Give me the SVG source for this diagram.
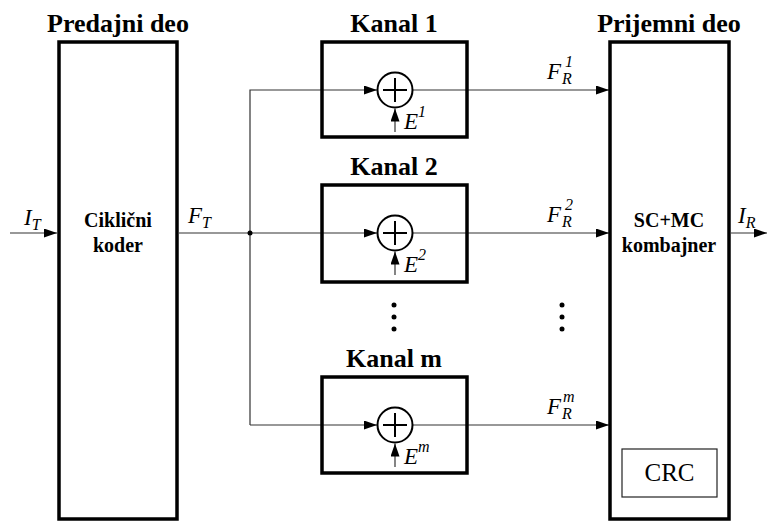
<svg xmlns="http://www.w3.org/2000/svg" width="767" height="521" viewBox="0 0 767 521">
<defs>
<marker id="arr" markerUnits="userSpaceOnUse" markerWidth="14" markerHeight="10" refX="13" refY="4.5" orient="auto">
<path d="M0,0 L13,4.5 L0,9 z" fill="#000"/>
</marker>
<style>
text{font-family:"Liberation Serif","Times New Roman",serif}
.box{fill:none;stroke:#000;stroke-width:3.5}
.thin{fill:#fff;stroke:#222;stroke-width:1.2}
.ln{fill:none;stroke:#333;stroke-width:1.2}
.title{font-weight:bold;font-size:26px;text-anchor:middle}
.lbl{font-weight:bold;font-size:20px;text-anchor:middle}
.it{font-style:italic;font-size:23px}
.sub{font-size:16px}
.sum{fill:#fff;stroke:#000;stroke-width:2}
</style>
</defs>
<g id="connectors">
<path class="ln" d="M10,233 H57" marker-end="url(#arr)"/>
<path class="ln" d="M179,233 H377" marker-end="url(#arr)"/>
<path class="ln" d="M250,425 V90 H377" marker-end="url(#arr)"/>
<path class="ln" d="M250,425 H377" marker-end="url(#arr)"/>
<path class="ln" d="M413,90 H609" marker-end="url(#arr)"/>
<path class="ln" d="M413,233 H609" marker-end="url(#arr)"/>
<path class="ln" d="M413,425 H609" marker-end="url(#arr)"/>
<path class="ln" d="M731,233 H767" marker-end="url(#arr)"/>
<circle cx="250" cy="233" r="2.5" fill="#000"/>
</g>
<g id="predajni">
<rect class="box" x="59" y="42" width="118" height="477"/>
<text class="title" x="118" y="32">Predajni deo</text>
<text class="lbl" x="118" y="227">Ciklični</text>
<text class="lbl" x="118" y="252">koder</text>
</g>
<g id="prijemni">
<rect class="box" x="610" y="42" width="119" height="477"/>
<text class="title" x="669" y="32">Prijemni deo</text>
<text class="lbl" x="669" y="227">SC+MC</text>
<text class="lbl" x="669" y="252">kombajner</text>
</g>
<g id="crc">
<rect class="thin" x="622" y="449" width="95" height="48"/>
<text x="669.5" y="481" font-size="25" text-anchor="middle">CRC</text>
</g>
<g id="kanal1">
<rect class="box" x="322" y="42" width="145" height="95"/>
<text class="title" x="394" y="32">Kanal 1</text>
</g>
<g id="kanal2">
<rect class="box" x="322" y="185" width="145" height="97"/>
<text class="title" x="394" y="175">Kanal 2</text>
</g>
<g id="kanalm">
<rect class="box" x="322" y="377" width="145" height="96"/>
<text class="title" x="394" y="367">Kanal m</text>
</g>
<g id="sum1">
<circle class="sum" cx="395" cy="90" r="17.5"/>
<path d="M383,90 H407 M395,78 V102" stroke="#000" stroke-width="2"/>
<path class="ln" d="M395,132 V108.5" marker-end="url(#arr)"/>
<text class="it" x="404" y="129">E<tspan class="sub" dy="-12">1</tspan></text>
</g>
<g id="sum2">
<circle class="sum" cx="395" cy="233" r="17.5"/>
<path d="M383,233 H407 M395,221 V245" stroke="#000" stroke-width="2"/>
<path class="ln" d="M395,275 V251.5" marker-end="url(#arr)"/>
<text class="it" x="404" y="272">E<tspan class="sub" dy="-12">2</tspan></text>
</g>
<g id="summ">
<circle class="sum" cx="395" cy="425" r="17.5"/>
<path d="M383,425 H407 M395,413 V437" stroke="#000" stroke-width="2"/>
<path class="ln" d="M395,467 V443.5" marker-end="url(#arr)"/>
<text class="it" x="404" y="464">E<tspan class="sub" dy="-12">m</tspan></text>
</g>
<g id="labels">
<text class="it" x="24" y="225">I<tspan class="sub" dy="5">T</tspan></text>
<text class="it" x="188" y="223">F<tspan class="sub" dy="5">T</tspan></text>
<text class="it" x="738" y="223">I<tspan class="sub" dy="5">R</tspan></text>
<text class="it" x="547" y="79">F</text><text class="it sub" x="562" y="84">R</text><text class="it sub" x="565" y="67">1</text>
<text class="it" x="547" y="222">F</text><text class="it sub" x="562" y="227">R</text><text class="it sub" x="565" y="210">2</text>
<text class="it" x="547" y="414">F</text><text class="it sub" x="562" y="419">R</text><text class="it sub" x="563" y="402">m</text>
</g>
<g id="dots" fill="#000">
<circle cx="394" cy="305" r="2.5"/><circle cx="394" cy="317" r="2.5"/><circle cx="394" cy="329" r="2.5"/>
<circle cx="562" cy="305" r="2.5"/><circle cx="562" cy="317" r="2.5"/><circle cx="562" cy="329" r="2.5"/>
</g>
</svg>
